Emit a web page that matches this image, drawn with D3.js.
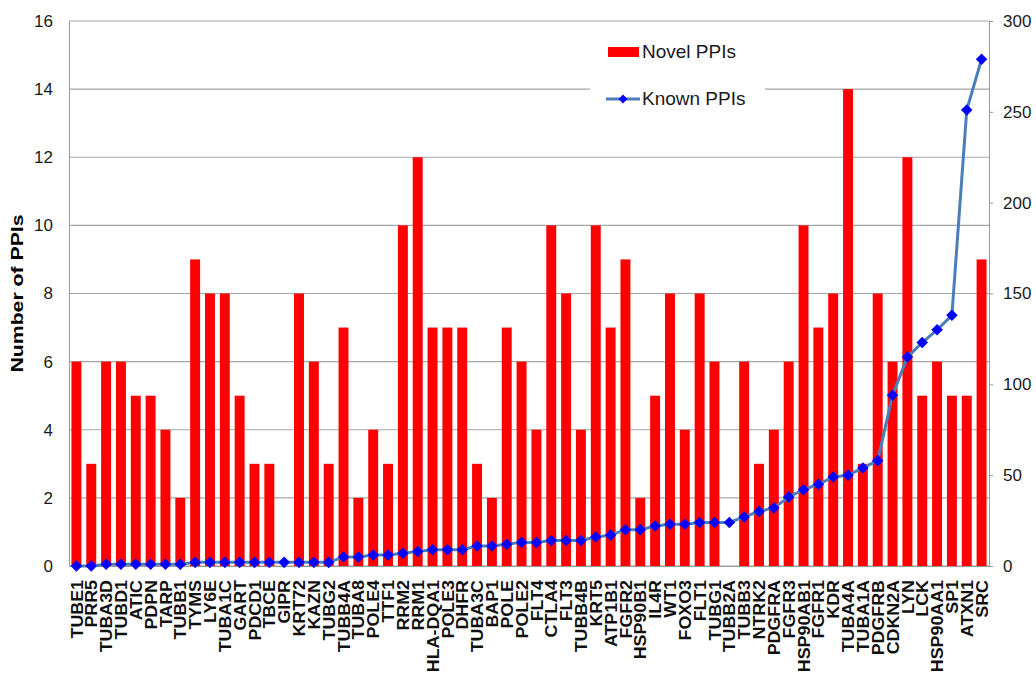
<!DOCTYPE html>
<html>
<head>
<meta charset="utf-8">
<script src="https://cdn.jsdelivr.net/npm/d3@7"></script>
<style>
  body { margin: 0; background: #fff; }
  text { font-family: "Liberation Sans", Arial, sans-serif; }
</style>
</head>
<body>
<script>
// genes, in the order they appear on the x axis
var genes = ["TUBE1","PRR5","TUBA3D","TUBD1","ATIC","PDPN","TARP","TUBB1","TYMS","LY6E",
  "TUBA1C","GART","PDCD1","TBCE","GIPR","KRT72","KAZN","TUBG2","TUBB4A","TUBA8",
  "POLE4","TTF1","RRM2","RRM1","HLA-DQA1","POLE3","DHFR","TUBA3C","BAP1","POLE",
  "POLE2","FLT4","CTLA4","FLT3","TUBB4B","KRT5","ATP1B1","FGFR2","HSP90B1","IL4R",
  "WT1","FOXO3","FLT1","TUBG1","TUBB2A","TUBB3","NTRK2","PDGFRA","FGFR3","HSP90AB1",
  "FGFR1","KDR","TUBA4A","TUBA1A","PDGFRB","CDKN2A","LYN","LCK","HSP90AA1","SP1",
  "ATXN1","SRC"];

// Novel PPIs (bars, left axis)
var novel = [6,3,6,6,5,5,4,2,9,8,
  8,5,3,3,0,8,6,3,7,2,
  4,3,10,12,7,7,7,3,2,7,
  6,4,10,8,4,10,7,9,2,5,
  8,4,8,6,0,6,3,4,6,10,
  7,8,14,3,8,6,12,5,6,5,
  5,9];

// Known PPIs (line, right axis)
var known = [0,0,1,1,1,1,1,1,2,2,
  2,2,2,2,2,2,2,2,5,5,
  6,6,7,8,9,9,9,11,11,12,
  13,13,14,14,14,16,17,20,20,22,
  23,23,24,24,24,27,30,32,38,42,
  45,49,50,54,58,94,115,123,130,138,
  251,279];

var leftTicks = [0,2,4,6,8,10,12,14,16];
var rightTicks = [0,50,100,150,200,250,300];

var W = 1036, H = 673;
var margin = {top: 21, right: 47, bottom: 107, left: 69};
var width = W - margin.left - margin.right,
    height = H - margin.top - margin.bottom;

var svg = d3.select("body").append("svg").attr("width", W).attr("height", H);
svg.append("rect").attr("width", W).attr("height", H).attr("fill", "#fff");
var g = svg.append("g").attr("transform", "translate(" + margin.left + "," + margin.top + ")");

var x = d3.scaleBand().domain(genes).range([0, width]).paddingInner(0.33).paddingOuter(0.165);
var yL = d3.scaleLinear().domain([0, 16]).range([height, 0]);
var yR = d3.scaleLinear().domain([0, 300]).range([height, 0]);

// gridlines
g.append("g").selectAll("line").data(leftTicks).enter().append("line")
  .attr("x1", 0).attr("x2", width)
  .attr("y1", function(d){ return yL(d); }).attr("y2", function(d){ return yL(d); })
  .attr("stroke", "#a6a6a6").attr("stroke-width", 1.2);

// left axis
var yAxisL = d3.axisLeft(yL).tickValues(leftTicks).tickSize(0).tickPadding(16);
var gl = g.append("g").call(yAxisL);
gl.select(".domain").attr("stroke", "#999");
gl.selectAll("text").attr("font-size", 17).attr("fill", "#1a1a1a");

// right axis
var yAxisR = d3.axisRight(yR).tickValues(rightTicks).tickSize(4).tickPadding(10);
var gr = g.append("g").attr("transform", "translate(" + width + ",0)").call(yAxisR);
gr.select(".domain").attr("stroke", "#999");
gr.selectAll("line").attr("stroke", "#999");
gr.selectAll("text").attr("font-size", 17).attr("fill", "#1a1a1a");

// bars
g.selectAll(".bar").data(novel).enter().append("rect")
  .attr("class", "bar")
  .attr("x", function(d, i){ return x(genes[i]); })
  .attr("y", function(d){ return yL(d); })
  .attr("width", x.bandwidth())
  .attr("height", function(d){ return height - yL(d); })
  .attr("fill", "#ff0000");

// bottom axis
var xAxis = d3.axisBottom(x).tickSize(0).tickPadding(0);
var gx = g.append("g").attr("transform", "translate(0," + height + ")").call(xAxis);
gx.select(".domain").attr("stroke", "#999");
gx.selectAll("text")
  .attr("font-size", 17).attr("font-weight", "bold").attr("fill", "#111")
  .attr("text-anchor", "end")
  .attr("transform", "translate(0,14) rotate(-90) scale(1.05,1)")
  .attr("x", 0).attr("y", 0).attr("dy", "0.36em");

// known PPIs line
var line = d3.line()
  .x(function(d, i){ return x(genes[i]) + x.bandwidth() / 2; })
  .y(function(d){ return yR(d); });
g.append("path").datum(known).attr("d", line)
  .attr("fill", "none").attr("stroke", "#4a7ebb").attr("stroke-width", 3);

var diamond = d3.symbol().type(d3.symbolDiamond2).size(85);
g.selectAll(".pt").data(known).enter().append("path")
  .attr("class", "pt")
  .attr("d", diamond)
  .attr("transform", function(d, i){
    return "translate(" + (x(genes[i]) + x.bandwidth() / 2) + "," + yR(d) + ")";
  })
  .attr("fill", "#0000ff");

// y title
svg.append("text")
  .attr("transform", "translate(23," + (margin.top + height / 2) + ") rotate(-90)")
  .attr("text-anchor", "middle")
  .attr("font-size", 16.5).attr("font-weight", "bold")
  .attr("textLength", 158).attr("lengthAdjust", "spacingAndGlyphs")
  .text("Number of PPIs");

// legend
var lg = svg.append("g");
lg.append("rect").attr("x", 590).attr("y", 30).attr("width", 175).attr("height", 92).attr("fill", "#fff");
lg.append("rect").attr("x", 608).attr("y", 47).attr("width", 31).attr("height", 10).attr("fill", "#ff0000");
lg.append("text").attr("x", 642).attr("y", 58).attr("font-size", 19).attr("fill", "#1a1a1a").text("Novel PPIs");
lg.append("line").attr("x1", 606).attr("x2", 640).attr("y1", 99).attr("y2", 99)
  .attr("stroke", "#4a7ebb").attr("stroke-width", 3);
lg.append("path").attr("d", d3.symbol().type(d3.symbolDiamond2).size(50))
  .attr("transform", "translate(623,99)").attr("fill", "#0000ff");
lg.append("text").attr("x", 642).attr("y", 105).attr("font-size", 19).attr("fill", "#1a1a1a").text("Known PPIs");
</script>
</body>
</html>
